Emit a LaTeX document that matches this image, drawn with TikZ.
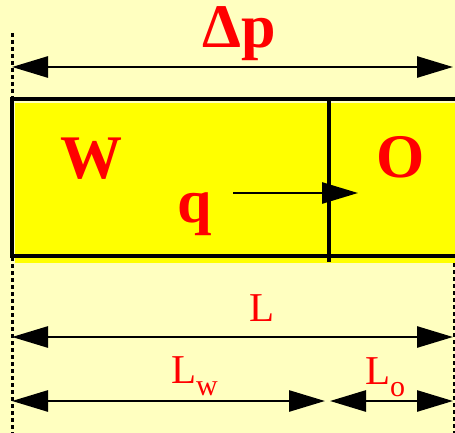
\documentclass[tikz,border=0pt]{standalone}
\usepackage{fontspec}
\setmainfont{Liberation Serif}
\usetikzlibrary{arrows.meta}
\definecolor{bgcol}{HTML}{FFFFC0}
\definecolor{boxcol}{HTML}{FFFF00}
\tikzset{
  tipA/.tip={Triangle[length=36pt,width=21pt]},
  dimline/.style={line width=2.7pt, tipA-tipA},
  flowline/.style={line width=2.7pt, -tipA},
  guide/.style={line width=3pt, dash pattern=on 4pt off 3pt},
  border/.style={line width=3.4pt},
  bigbold/.style={text=red, inner sep=0pt, font=\fontsize{62}{62}\selectfont\bfseries},
  dimlabel/.style={text=red, inner sep=0pt, font=\fontsize{41}{41}\selectfont},
}
\newcommand{\subw}[1]{\raisebox{-12pt}{\fontsize{30}{30}\selectfont #1}}
\begin{document}
\begin{tikzpicture}[x=1pt,y=-1pt]
\fill[bgcol] (0,0) rectangle (455,433);
\useasboundingbox (0,0) rectangle (455,433);
% guides
\coordinate (gl1) at (12,33);
\coordinate (gl2) at (12,433);
\coordinate (gr1) at (454,263);
\coordinate (gr2) at (454,433);
\draw[guide] (gl1) -- (gl2);
\draw[guide] (gr1) -- (gr2);
% pipe
\fill[boxcol] (15,103) rectangle (458,263);
\draw[border] (12,99) rectangle (456.5,256);
\coordinate (dv1) at (329,99);
\coordinate (dv2) at (329,262);
\draw[border] (dv1) -- (dv2);
% top dimension
\coordinate (pl) at (12,67);
\coordinate (pr) at (453,67);
\draw[dimline] (pl) -- (pr);
\node[bigbold, anchor=base] (dp) at (239,48) {Δp};
% labels inside
\node[bigbold, anchor=base] (W) at (91.5,178) {W};
\node[bigbold, anchor=base] (O) at (400.5,177) {O};
\node[bigbold, anchor=base] (q) at (194.5,222) {q};
\coordinate (qs) at (233,193);
\coordinate (qe) at (358,193);
\draw[flowline] (qs) -- (qe);
% L dimension
\coordinate (ll) at (12,337);
\coordinate (lr) at (453,337);
\draw[dimline] (ll) -- (lr);
\node[dimlabel, anchor=base] (L) at (262,321) {L};
% Lw and Lo
\coordinate (wl) at (12,401);
\coordinate (wr) at (325,401);
\coordinate (ol) at (330,401);
\coordinate (or) at (453,401);
\draw[dimline] (wl) -- (wr);
\draw[dimline] (ol) -- (or);
\node[dimlabel, anchor=base west] (Lw) at (171,383) {L\subw{w}};
\node[dimlabel, anchor=base west] (Lo) at (365,384) {L\subw{o}};
\end{tikzpicture}
\end{document}
